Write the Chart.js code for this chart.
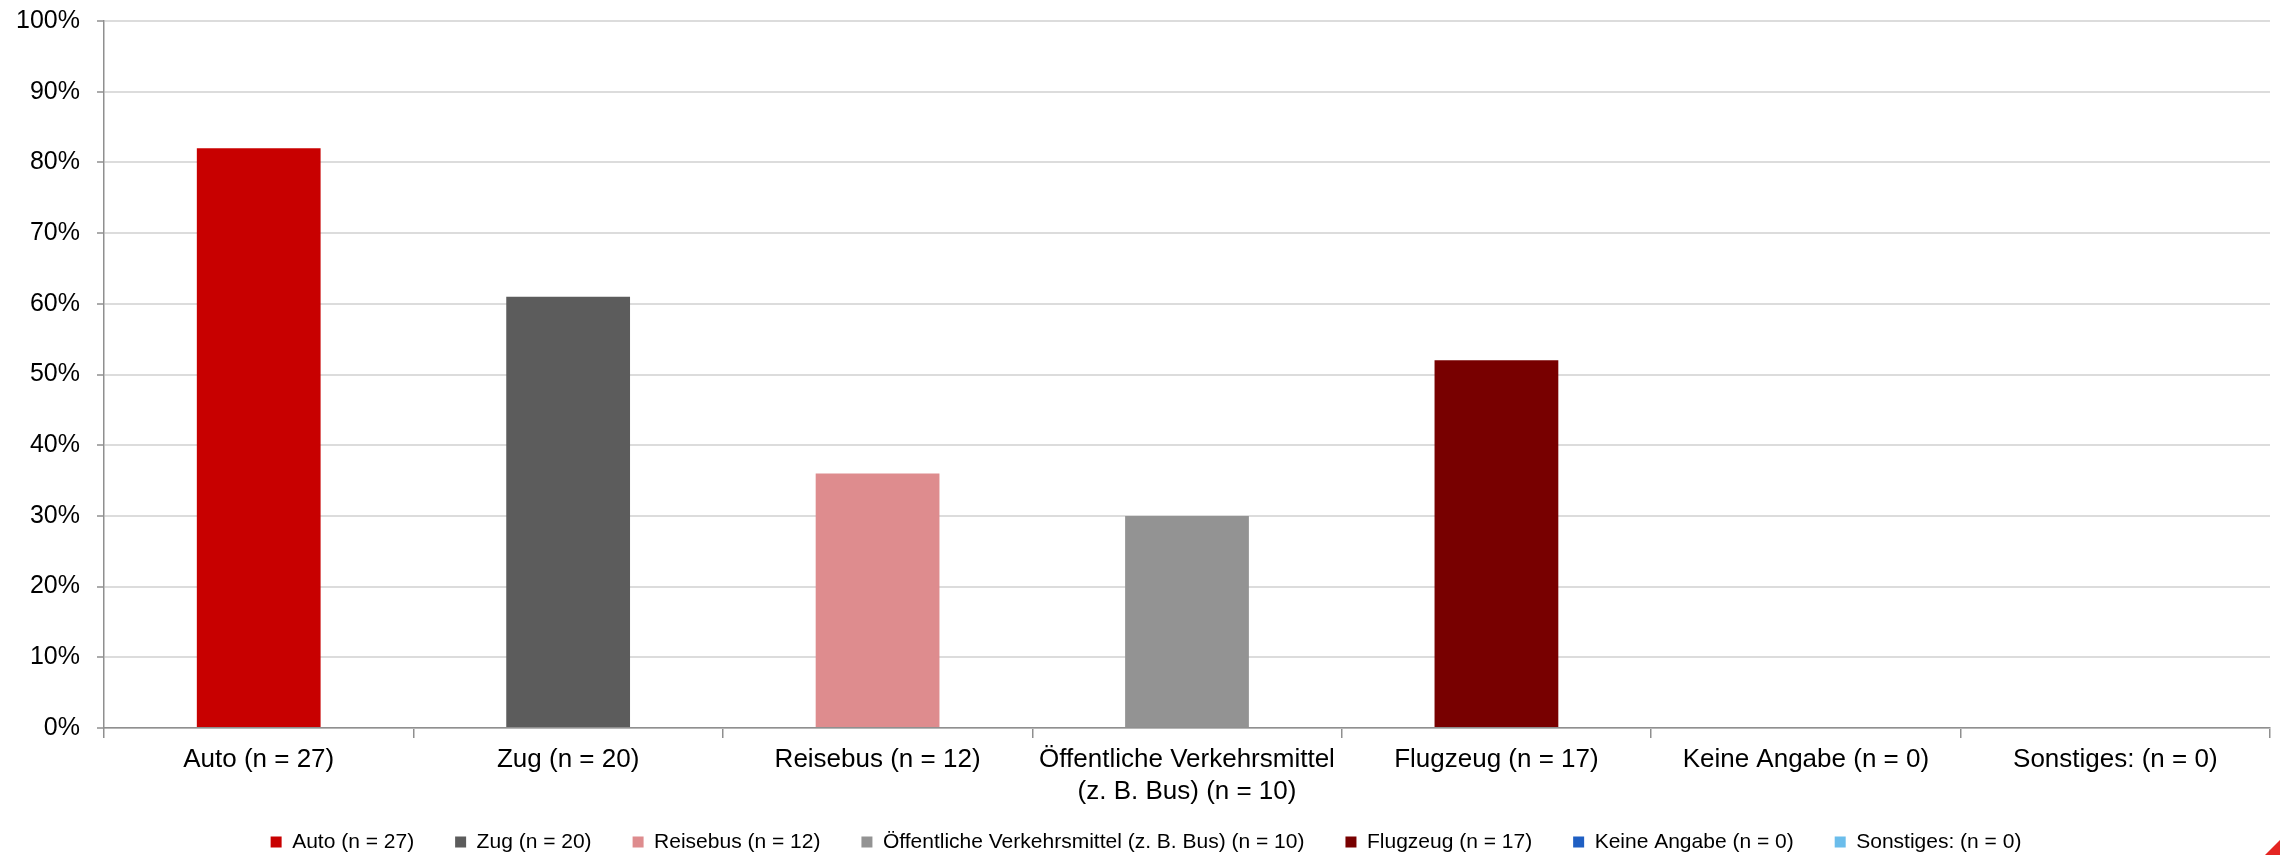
<!DOCTYPE html>
<html>
<head>
<meta charset="utf-8">
<script src="https://cdn.jsdelivr.net/npm/chart.js@4/dist/chart.umd.min.js"></script>
<style>
  html, body { margin: 0; padding: 0; background: #ffffff; }
  #wrap { width: 2280px; height: 855px; position: relative; }
</style>
</head>
<body>
<div id="wrap"><canvas id="c" width="2280" height="855"></canvas></div>
<script>
// ---- data ----
const categories = [
  "Auto (n = 27)",
  "Zug (n = 20)",
  "Reisebus (n = 12)",
  ["Öffentliche Verkehrsmittel", "(z. B. Bus) (n = 10)"],
  "Flugzeug (n = 17)",
  "Keine Angabe (n = 0)",
  "Sonstiges: (n = 0)"
];
const seriesNames = [
  "Auto (n = 27)",
  "Zug (n = 20)",
  "Reisebus (n = 12)",
  "Öffentliche Verkehrsmittel (z. B. Bus) (n = 10)",
  "Flugzeug (n = 17)",
  "Keine Angabe (n = 0)",
  "Sonstiges: (n = 0)"
];
const shares = [82, 61, 36, 30, 52, 0, 0];
const yTicks = [0, 10, 20, 30, 40, 50, 60, 70, 80, 90, 100];

// ---- styles ----
const colors = ["#C80000", "#5C5C5C", "#DE8C8E", "#939393", "#780000", "#1F5FC3", "#6BBDEB"];
const FONT = "'Liberation Sans', Arial, Helvetica, sans-serif";

const datasets = seriesNames.map((name, i) => ({
  label: name,
  data: shares.map((v, j) => (j === i ? v : null)),
  backgroundColor: colors[i],
  borderWidth: 0,
  barPercentage: 0.4,
  categoryPercentage: 1.0
}));

// move the legend row to its place below the axis labels
const legendPlace = {
  id: 'legendPlace',
  afterLayout(chart) {
    const lg = chart.legend;
    if (!lg) return;
    lg.top = 790.5;
    lg.bottom = chart.height;
    lg.height = lg.bottom - lg.top;
    lg.left += 11; lg.right += 11;
  }
};

const cornerPlugin = {
  id: 'corner',
  afterDraw(chart) {
    const ctx = chart.ctx;
    const w = chart.width, h = chart.height;
    ctx.save();
    ctx.fillStyle = '#E42522';
    ctx.beginPath();
    ctx.moveTo(w - 15, h);
    ctx.lineTo(w, h - 15);
    ctx.lineTo(w, h);
    ctx.closePath();
    ctx.fill();
    ctx.restore();
  }
};

new Chart(document.getElementById('c'), {
  type: 'bar',
  data: { labels: categories, datasets },
  plugins: [legendPlace, cornerPlugin],
  options: {
    responsive: false,
    animation: false,
    devicePixelRatio: 1,
    layout: { padding: { top: 21, right: 10, left: 0, bottom: 0 } },
    plugins: {
      tooltip: { enabled: false },
      title: { display: false },
      legend: {
        display: true,
        position: 'bottom',
        align: 'center',
        maxHeight: 47,
        labels: {
          boxWidth: 11,
          boxHeight: 11,
          padding: 41,
          color: '#000000',
          font: { family: FONT, size: 21 }
        }
      }
    },
    scales: {
      x: {
        stacked: true,
        afterFit(scale) { scale.height = 80; },
        border: { display: true, color: '#8f8f8f', width: 1.5 },
        grid: {
          offset: true,
          drawOnChartArea: false,
          drawTicks: true,
          tickLength: 10,
          color: '#8f8f8f',
          lineWidth: 1.5
        },
        ticks: {
          color: '#000000',
          padding: 6,
          maxRotation: 0,
          autoSkip: false,
          font: { family: FONT, size: 26, lineHeight: 1.23 }
        }
      },
      y: {
        stacked: true,
        min: 0,
        max: 100,
        afterFit(scale) { scale.width = 104; scale.paddingTop = 0; scale.paddingBottom = 0; },
        afterBuildTicks(scale) { scale.ticks = yTicks.map(v => ({ value: v })); },
        border: { display: true, color: '#8f8f8f', width: 1.5 },
        grid: {
          color: '#dcdcdc',
          lineWidth: 2,
          drawTicks: true,
          tickLength: 7,
          tickColor: '#8f8f8f',
          tickWidth: 1.5
        },
        ticks: {
          color: '#000000',
          padding: 17,
          font: { family: FONT, size: 25 },
          callback: (v) => v + '%'
        }
      }
    }
  }
});
</script>
</body>
</html>
